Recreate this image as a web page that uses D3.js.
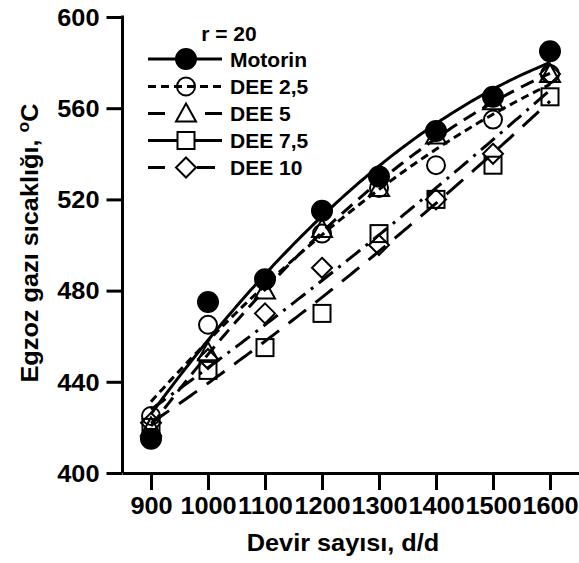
<!DOCTYPE html>
<html><head><meta charset="utf-8">
<script src="https://cdn.jsdelivr.net/npm/d3@7"></script>
<style>
html,body{margin:0;padding:0;background:#fff;}
svg text{font-family:"Liberation Sans",Arial,sans-serif;font-weight:bold;fill:#000;}
</style></head>
<body>
<svg id="chart" width="579" height="563"></svg>
<script>
const rpm = [900, 1000, 1100, 1200, 1300, 1400, 1500, 1600];
const motorin = [415, 475, 485, 515, 530, 550, 565, 585];
const dee25 = [425, 465, 485, 505, 525, 535, 555, 575];
const dee5 = [420, 453, 480, 507, 525, 548, 563, 575];
const dee75 = [420, 445, 455, 470, 505, 520, 535, 565];
const dee10 = [422, 450, 470, 490, 500, 520, 540, 575];
const seriesNames = ["Motorin", "DEE 2,5", "DEE 5", "DEE 7,5", "DEE 10"];
const yTicks = [400, 440, 480, 520, 560, 600];
const xTicks = rpm;

const seriesData = [motorin, dee25, dee5, dee75, dee10];
const styles = [
  {dash: null, legendDash: null, marker: "circle", fill: "#000"},
  {dash: "8,5", legendDash: "8,5", marker: "circle", fill: "none"},
  {dash: "14,8", legendDash: "17,40", marker: "triangle", fill: "none"},
  {dash: "22,12", legendDash: null, marker: "square", fill: "none"},
  {dash: "18,7,3,7", legendDash: "17,32,18,100", marker: "diamond", fill: "none"}
];
const stretch = 1.1;

const svg = d3.select("#chart");
const x = d3.scaleLinear().domain([850, 1650]).range([122.5, 578.5]);
const y = d3.scaleLinear().domain([400, 600]).range([473, 17]);

// quadratic least squares trendline
function quadFit(xs, ys) {
  const n = xs.length;
  const t = xs.map(v => v / 1000);
  let S = [0,0,0,0,0], T = [0,0,0];
  for (let i = 0; i < n; i++) {
    for (let k = 0; k < 5; k++) S[k] += Math.pow(t[i], k);
    for (let k = 0; k < 3; k++) T[k] += ys[i] * Math.pow(t[i], k);
  }
  const A = [[S[0],S[1],S[2],T[0]],[S[1],S[2],S[3],T[1]],[S[2],S[3],S[4],T[2]]];
  for (let i = 0; i < 3; i++) {
    let p = i;
    for (let r = i+1; r < 3; r++) if (Math.abs(A[r][i]) > Math.abs(A[p][i])) p = r;
    [A[i], A[p]] = [A[p], A[i]];
    for (let r = 0; r < 3; r++) if (r !== i) {
      const f = A[r][i] / A[i][i];
      for (let c = i; c < 4; c++) A[r][c] -= f * A[i][c];
    }
  }
  const c = [A[0][3]/A[0][0], A[1][3]/A[1][1], A[2][3]/A[2][2]];
  return v => { const tt = v/1000; return c[0] + c[1]*tt + c[2]*tt*tt; };
}

// axes
const yAxis = d3.axisLeft(y).tickValues(yTicks).tickSize(16).tickPadding(7).tickSizeOuter(0);
const gy = svg.append("g").attr("transform", "translate(122.5,0)").call(yAxis);
gy.selectAll("path,line").attr("stroke", "#000").attr("stroke-width", 3);
gy.selectAll("text").style("font-size", "23px").attr("dy", "0.36em")
  .attr("x", 0).attr("transform", `translate(-23,0) scale(${stretch},1)`);

const xAxis = d3.axisBottom(x).tickValues(xTicks).tickSize(17).tickPadding(8).tickSizeOuter(0).tickFormat(d3.format("d"));
const gx = svg.append("g").attr("transform", "translate(0,473)").call(xAxis);
gx.selectAll("path,line").attr("stroke", "#000").attr("stroke-width", 3);
gx.selectAll("text").style("font-size", "23px").attr("transform", `scale(${stretch},1)`);
gy.select(".domain").attr("d", "M0,15.5V473");

// curves
const samples = d3.range(900, 1600.1, 5);
const lineGen = d3.line().x(d => x(d[0])).y(d => y(d[1]));
seriesData.forEach((vals, i) => {
  const f = quadFit(rpm, vals);
  svg.append("path")
    .attr("d", lineGen(samples.map(s => [s, f(s)])))
    .attr("fill", "none").attr("stroke", "#000").attr("stroke-width", 3)
    .attr("stroke-dasharray", styles[i].dash);
});

function drawMarker(g, type, cx, cy, fill) {
  let m;
  if (type === "circle") {
    m = g.append("circle").attr("cx", cx).attr("cy", cy).attr("r", fill === "none" ? 9 : 10);
  } else if (type === "triangle") {
    m = g.append("path").attr("d", `M${cx},${cy-10}L${cx+10},${cy+8}L${cx-10},${cy+8}Z`);
  } else if (type === "square") {
    m = g.append("rect").attr("x", cx-8.5).attr("y", cy-8.5).attr("width", 17).attr("height", 17);
  } else {
    m = g.append("path").attr("d", `M${cx},${cy-10}L${cx+10},${cy}L${cx},${cy+10}L${cx-10},${cy}Z`);
  }
  m.attr("fill", fill).attr("stroke", "#000").attr("stroke-width", 2);
}

// markers
seriesData.forEach((vals, i) => {
  const g = svg.append("g");
  vals.forEach((v, j) => drawMarker(g, styles[i].marker, x(rpm[j]), y(v), styles[i].fill));
});

// legend
const lg = svg.append("g");
lg.append("text").attr("x", 229).attr("y", 41).attr("text-anchor", "middle").style("font-size", "21px").text("r = 20");
const rowY = [59, 86.5, 113.5, 140.5, 167.5];
seriesNames.forEach((name, i) => {
  const yy = rowY[i];
  lg.append("line").attr("x1", 148).attr("x2", 222).attr("y1", yy).attr("y2", yy)
    .attr("stroke", "#000").attr("stroke-width", 3).attr("stroke-dasharray", styles[i].legendDash);
  drawMarker(lg, styles[i].marker, 186, yy, styles[i].fill === "none" && styles[i].marker !== "circle" ? "#fff" : styles[i].fill);
  lg.append("text").attr("x", 230).attr("y", yy + 7.5).style("font-size", "21px").text(name);
});

// axis titles
svg.append("text").attr("text-anchor", "middle").style("font-size", "23px")
  .attr("transform", `translate(343,551) scale(${stretch},1)`).text("Devir sayısı, d/d");
const yt = svg.append("text").attr("transform", `translate(38,243) rotate(-90) scale(${stretch},1)`)
  .attr("text-anchor", "middle").style("font-size", "23px");
yt.append("tspan").text("Egzoz gazı sıcaklığı, ");
yt.append("tspan").attr("dy", -9).style("font-size", "16px").text("o");
yt.append("tspan").attr("dy", 9).text("C");
</script>
</body></html>
